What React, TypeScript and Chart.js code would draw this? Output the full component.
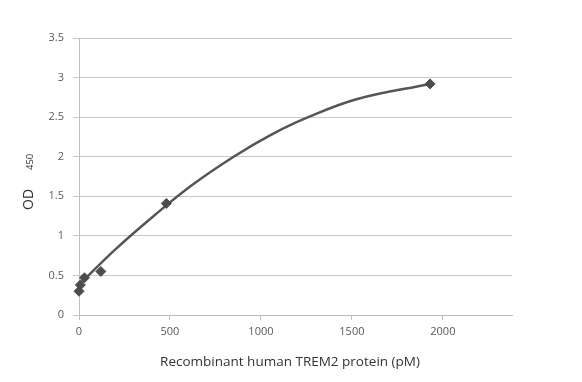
import React, { useEffect, useRef } from "react";
import { Chart, registerables } from "chart.js";

Chart.register(...registerables);

// Measured points
const concentrationPM = [0, 7.5, 30, 120, 480, 1930];
const od450 = [0.3, 0.38, 0.47, 0.55, 1.41, 2.92];

// Trendline
const trendX = [0, 200, 420, 620, 850, 1050, 1250, 1530, 1930];
const trendY = [0.38, 0.83, 1.27, 1.64, 2.0, 2.27, 2.49, 2.73, 2.92];

const xTicks = [0, 500, 1000, 1500, 2000];
const yTicks = [0, 0.5, 1, 1.5, 2, 2.5, 3, 3.5];

const xTitle = "Recombinant human TREM2 protein (pM)";
const yTitleMain = "OD";
const yTitleSub = "450";

const FONT = "'Open Sans', 'Liberation Sans', sans-serif";

const titlePlugin = {
  id: "customTitles",
  afterDraw(chart: any) {
    const ctx = chart.ctx;
    ctx.save();
    ctx.fillStyle = "#333333";
    ctx.font = `13.5px ${FONT}`;
    ctx.textAlign = "center";
    ctx.textBaseline = "middle";
    ctx.fillText(xTitle, 290, 362);
    ctx.restore();

    ctx.save();
    ctx.translate(33, 210);
    ctx.rotate(-Math.PI / 2);
    ctx.fillStyle = "#333333";
    ctx.textAlign = "left";
    ctx.textBaseline = "alphabetic";
    ctx.font = `14px ${FONT}`;
    ctx.fillText(yTitleMain, 0, 0);
    ctx.font = `9.5px ${FONT}`;
    ctx.fillText(yTitleSub, 40, 0);
    ctx.restore();
  },
};

export default function App() {
  const ref = useRef<HTMLCanvasElement | null>(null);

  useEffect(() => {
    if (!ref.current) return;
    const chart = new Chart(ref.current, {
      type: "scatter",
      data: {
        datasets: [
          {
            label: "Trend",
            data: trendX.map((x, i) => ({ x, y: trendY[i] })),
            showLine: true,
            borderColor: "#555555",
            borderWidth: 2.5,
            pointRadius: 0,
            tension: 0.4,
            clip: false,
            order: 2,
          },
          {
            label: "OD450",
            data: concentrationPM.map((x, i) => ({ x, y: od450[i] })),
            showLine: false,
            pointStyle: "rectRot",
            pointRadius: 5,
            backgroundColor: "#4d4d4d",
            borderColor: "#4d4d4d",
            borderWidth: 1,
            clip: false,
            order: 1,
          },
        ],
      },
      options: {
        animation: false,
        responsive: false,
        layout: { padding: { left: 0, top: 38, right: 70, bottom: 0 } },
        plugins: {
          legend: { display: false },
          tooltip: { enabled: false },
        },
        scales: {
          x: {
            type: "linear",
            min: 0,
            max: 2380,
            afterBuildTicks(scale: any) {
              scale.ticks = xTicks.map((v) => ({ value: v }));
            },
            afterFit(scale: any) {
              scale.height = 67;
            },
            grid: {
              display: true,
              drawOnChartArea: false,
              drawTicks: true,
              tickLength: 5,
              color: "#bfbfbf",
            },
            border: { display: true, color: "#bfbfbf", width: 1 },
            ticks: {
              color: "#595959",
              font: { family: FONT, size: 11 },
              padding: 5,
              maxRotation: 0,
              callback: (v: any) => String(v),
            },
          },
          y: {
            type: "linear",
            min: 0,
            max: 3.5,
            afterBuildTicks(scale: any) {
              scale.ticks = yTicks.map((v) => ({ value: v }));
            },
            afterFit(scale: any) {
              scale.width = 79;
            },
            grid: {
              display: true,
              drawOnChartArea: true,
              drawTicks: true,
              tickLength: 6,
              color: "#c8c8c8",
            },
            border: { display: true, color: "#bfbfbf", width: 1 },
            ticks: {
              color: "#595959",
              font: { family: FONT, size: 11 },
              padding: 9,
              callback: (v: any) => String(v),
            },
          },
        },
      },
      plugins: [titlePlugin],
    } as any);
    return () => chart.destroy();
  }, []);

  return (
    <div style={{ position: "fixed", left: 0, top: 0, width: 582, height: 382, background: "#fff" }}>
      <canvas ref={ref} width={582} height={382} style={{ width: 582, height: 382 }} />
    </div>
  );
}
